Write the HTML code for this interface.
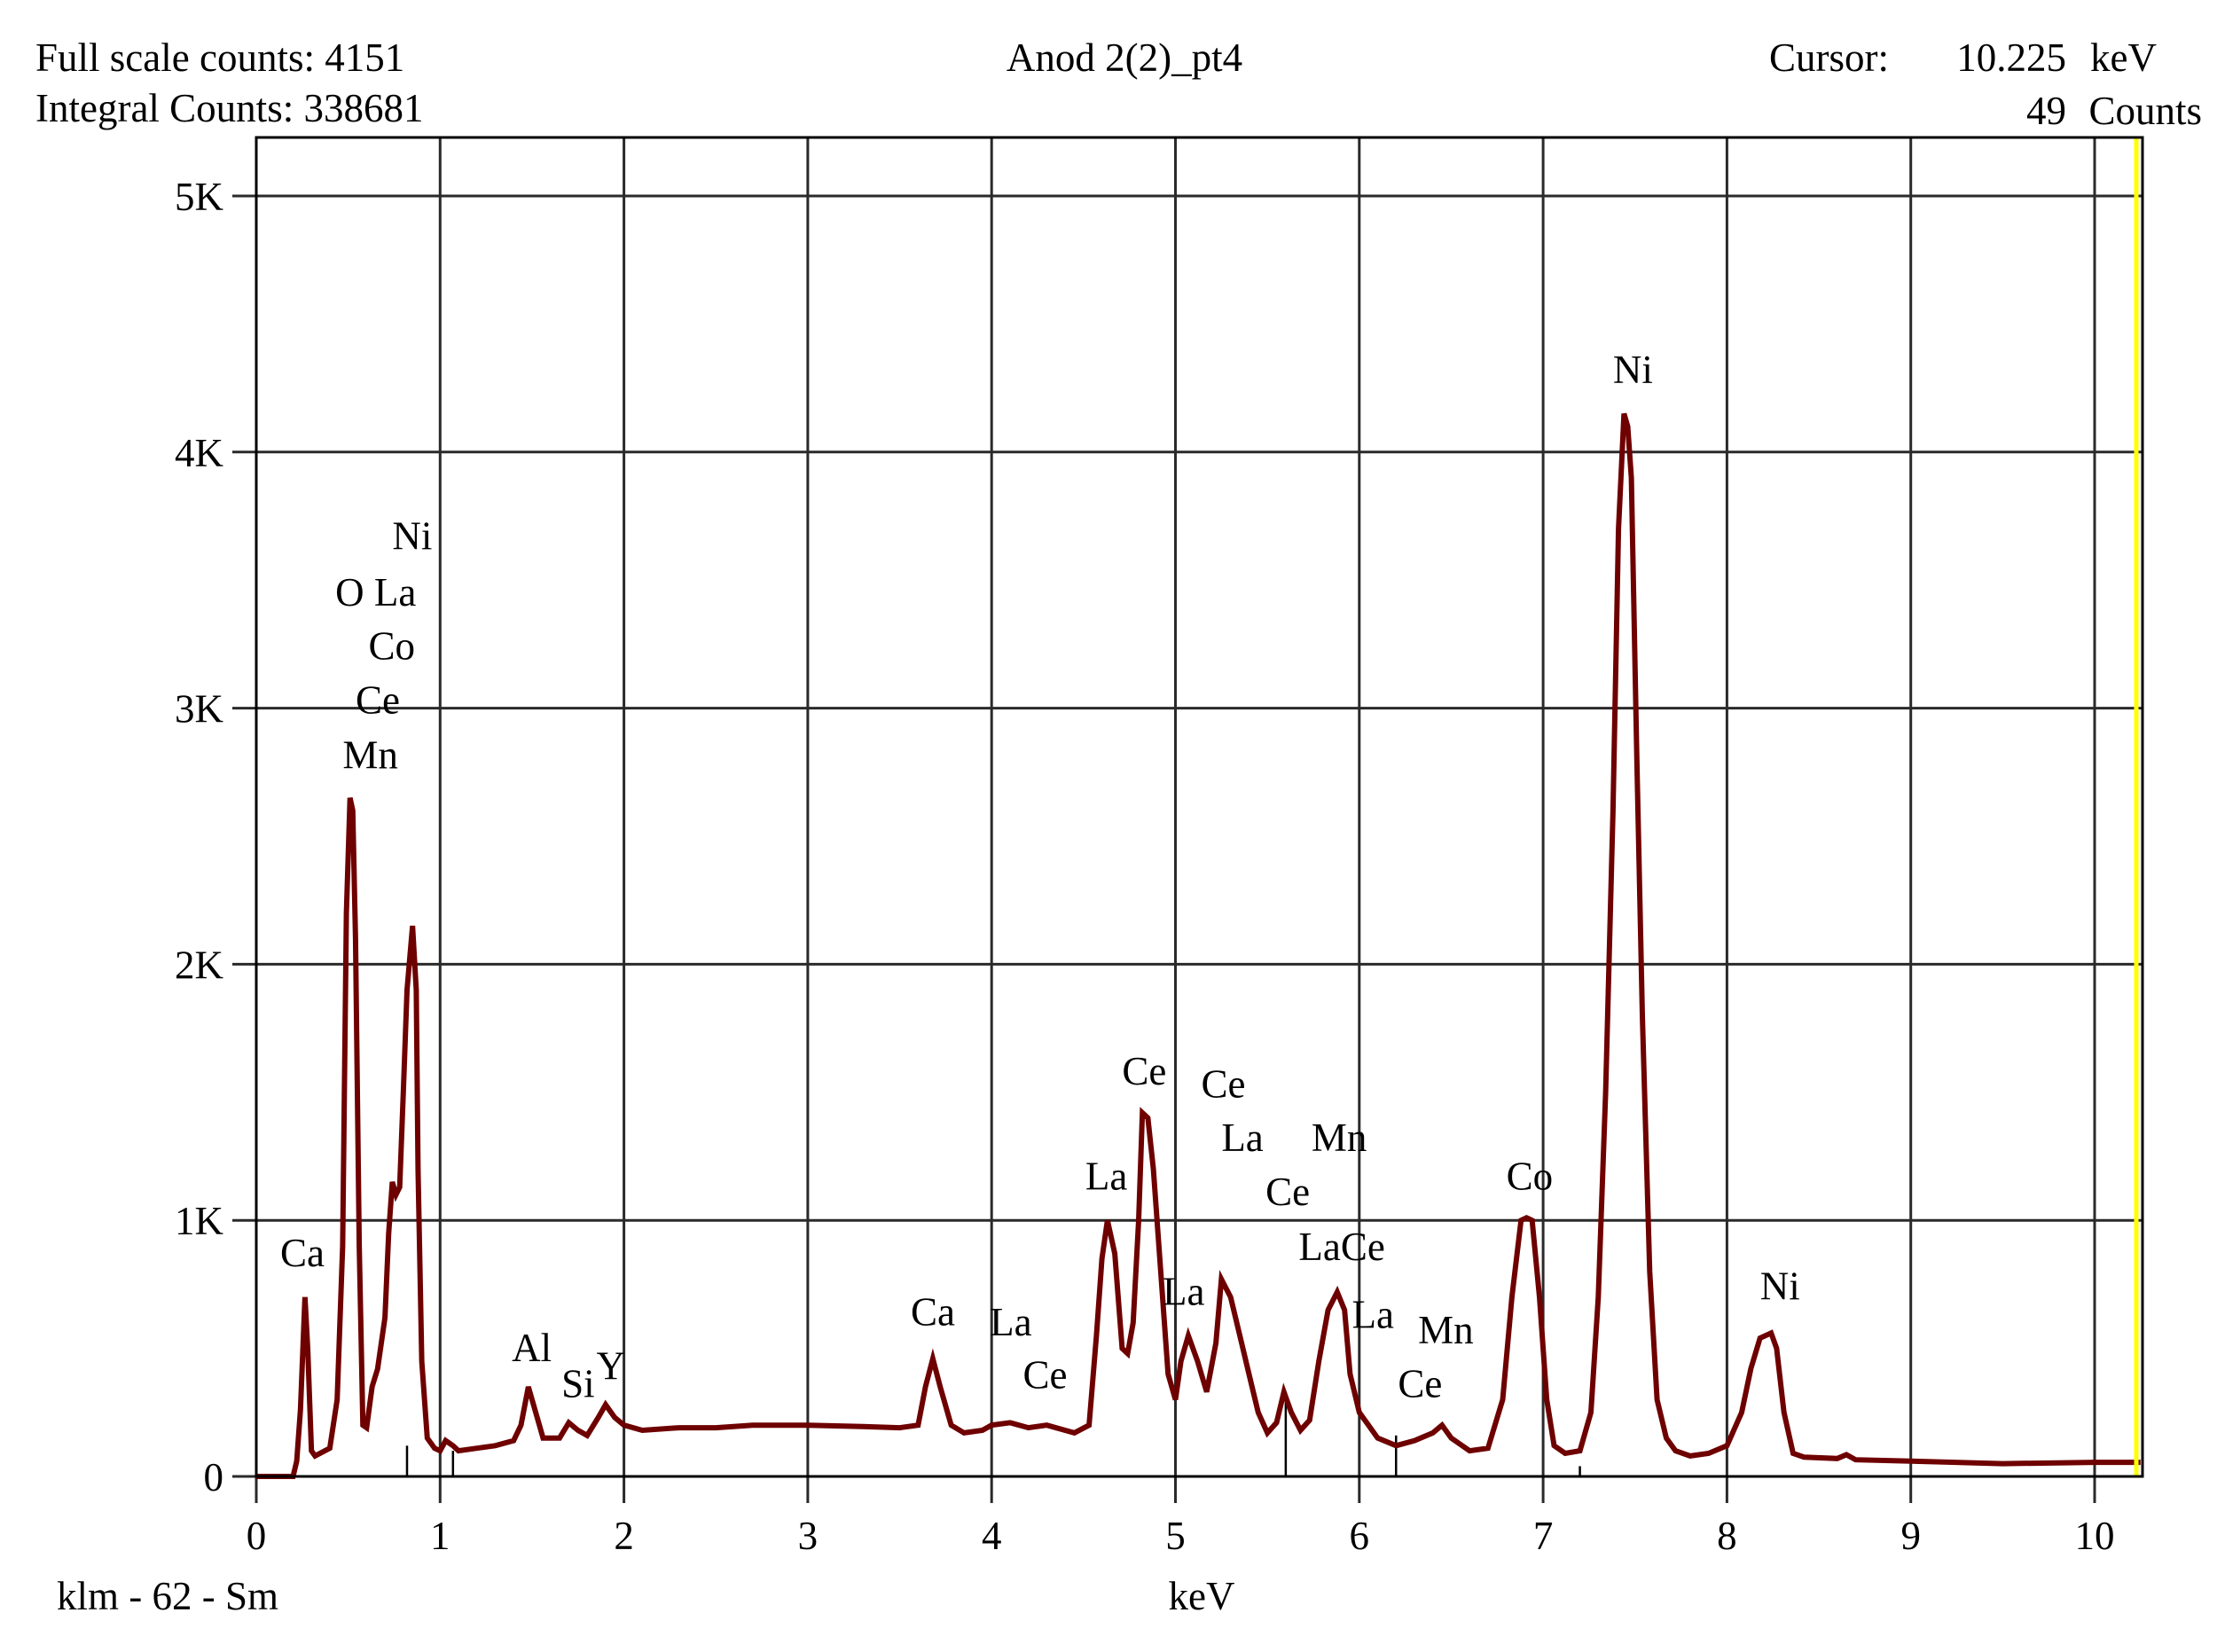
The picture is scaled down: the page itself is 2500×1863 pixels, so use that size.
<!DOCTYPE html>
<html><head><meta charset="utf-8"><style>
html,body{margin:0;padding:0;background:#fff;}
svg{display:block;font-family:"Liberation Serif",serif;}
</style></head><body>
<svg id="chart" width="2500" height="1863" viewBox="0 0 2500 1863" xmlns="http://www.w3.org/2000/svg">
<rect width="2500" height="1863" fill="#fff"/>
<g font-size="45" fill="#000">
<text x="40" y="80">Full scale counts: 4151</text>
<text x="40" y="137">Integral Counts: 338681</text>
<text x="1268" y="80" text-anchor="middle">Anod 2(2)_pt4</text>
<text x="1995" y="80">Cursor:</text>
<text x="2330" y="80" text-anchor="end">10.225</text>
<text x="2432" y="80" text-anchor="end">keV</text>
<text x="2330" y="140" text-anchor="end">49</text>
<text x="2483" y="140" text-anchor="end">Counts</text>
<text x="64" y="1815">klm - 62 - Sm</text>
<text x="1355" y="1815" text-anchor="middle">keV</text>
</g>
<g id="grid"></g>
<g id="axes"></g>
<g id="markers"></g>
<path id="spectrum" fill="none" stroke="#6e0000" stroke-width="6" stroke-linejoin="miter"/>
<line x1="2409" y1="155" x2="2409" y2="1665" stroke="#ffff00" stroke-width="5"/>
<rect x="289" y="155" width="2127" height="1510" fill="none" stroke="#000" stroke-width="3"/>
<g id="labels" font-size="45" fill="#000"></g>
</svg>
<script>
const energies = [
0,0.2,0.22,0.24,0.265,0.28,0.3,0.32,0.4,0.44,
0.47,0.49,0.51,0.525,0.54,0.56,0.58,0.6,0.63,0.66,
0.7,0.72,0.74,0.76,0.78,0.8,0.82,0.85,0.87,0.88,
0.9,0.93,0.97,1.0,1.03,1.07,1.1,1.2,1.3,1.4,
1.44,1.48,1.52,1.56,1.65,1.7,1.75,1.8,1.86,1.9,
1.95,2.0,2.1,2.3,2.5,2.7,3.0,3.3,3.5,3.6,
3.64,3.68,3.72,3.78,3.85,3.95,4.0,4.1,4.2,4.3,
4.45,4.53,4.57,4.6,4.63,4.67,4.71,4.74,4.77,4.8,
4.82,4.85,4.88,4.92,4.96,5.0,5.03,5.07,5.12,5.17,
5.22,5.25,5.3,5.35,5.4,5.45,5.5,5.55,5.59,5.63,
5.68,5.73,5.78,5.83,5.88,5.92,5.95,6.0,6.05,6.1,
6.2,6.3,6.4,6.45,6.5,6.6,6.7,6.78,6.83,6.88,
6.91,6.94,6.98,7.02,7.06,7.12,7.2,7.26,7.3,7.34,
7.38,7.41,7.44,7.46,7.48,7.51,7.54,7.58,7.62,7.67,
7.72,7.8,7.9,8.0,8.08,8.13,8.18,8.24,8.27,8.31,
8.36,8.42,8.6,8.65,8.7,9.0,9.5,10.0,10.25];
const counts = [
0,0,60,260,700,500,100,80,110,300,
900,2200,2650,2600,2100,900,200,190,350,420,
620,950,1150,1100,1130,1500,1900,2150,1900,1200,
450,150,110,100,140,120,100,110,120,140,
200,350,250,150,150,210,180,160,230,280,
230,200,180,190,190,200,200,195,190,200,
350,460,350,200,170,180,200,210,190,200,
170,200,550,850,1000,870,500,480,600,1000,
1420,1400,1200,800,400,300,450,550,450,330,
520,770,700,550,400,250,170,210,330,250,
180,220,450,650,720,650,400,250,200,150,
120,140,170,200,150,100,110,300,700,1000,
1010,1000,700,300,120,90,100,250,700,1500,
2600,3700,4150,4100,3900,2800,1800,800,300,150,
100,80,90,120,250,420,540,560,500,250,
90,75,70,85,65,60,50,55,55];
const xTicks = [0,1,2,3,4,5,6,7,8,9,10];
const yTicks = [0,1000,2000,3000,4000,5000];
const yTickLabels = ["0","1K","2K","3K","4K","5K"];
const markerKev = [0.82,1.07,5.6,6.2,7.2];
const markerHeights = [120,100,330,160,40];
const peakLabels = ["Ni","O La","Co","Ce","Mn","Ca","Al","Si","Y","Ca","La","Ce","La","Ce","Ce","La","Mn","Ce","LaCe","La","La","Mn","Ce","Co","Ni","Ni"];
const labelKev = [0.74,0.43,0.61,0.54,0.47,0.13,1.39,1.66,1.85,3.56,3.99,4.17,4.51,4.71,5.14,5.25,5.74,5.49,5.67,4.93,5.96,6.32,6.21,6.8,7.38,8.18];
const labelCounts = [3620,3400,3190,2980,2765,820,450,310,380,590,550,345,1120,1530,1480,1270,1270,1060,845,670,580,520,310,1120,4270,690];

const X0=289, PXK=207.3, Y0=1665, PYC=0.2888;
const xs = k => X0 + k*PXK;
const ys = c => Y0 - c*PYC;
const NS='http://www.w3.org/2000/svg';
const grid=document.getElementById('grid'), axes=document.getElementById('axes');
xTicks.forEach((t,i)=>{
  const l=document.createElementNS(NS,'line');
  l.setAttribute('x1',xs(t));l.setAttribute('x2',xs(t));l.setAttribute('y1',155);l.setAttribute('y2',1695);
  l.setAttribute('stroke','#2a2a2a');l.setAttribute('stroke-width','3');
  
  
  grid.appendChild(l);
  const tx=document.createElementNS(NS,'text');
  tx.setAttribute('x',xs(t));tx.setAttribute('y',1747);tx.setAttribute('text-anchor','middle');tx.setAttribute('font-size','45');
  tx.textContent=String(t);
  
  
  axes.appendChild(tx);
});
yTicks.forEach((t,i)=>{
  const l=document.createElementNS(NS,'line');
  l.setAttribute('x1',262);l.setAttribute('x2',2416);l.setAttribute('y1',ys(t));l.setAttribute('y2',ys(t));
  l.setAttribute('stroke','#2a2a2a');l.setAttribute('stroke-width','3');
  
  
  grid.appendChild(l);
  const tx=document.createElementNS(NS,'text');
  tx.setAttribute('x',252);tx.setAttribute('y',ys(t)+16);tx.setAttribute('text-anchor','end');tx.setAttribute('font-size','45');
  tx.textContent=yTickLabels[i];
  
  
  axes.appendChild(tx);
});
const mk=document.getElementById('markers');
markerKev.forEach((k,i)=>{
  const l=document.createElementNS(NS,'line');
  l.setAttribute('x1',xs(k));l.setAttribute('x2',xs(k));l.setAttribute('y1',Y0);l.setAttribute('y2',ys(markerHeights[i]));
  l.setAttribute('stroke','#000');l.setAttribute('stroke-width','2.5');
  
  
  mk.appendChild(l);
});
let d='';
const n=Math.min(energies.length,counts.length);
for(let i=0;i<n;i++){ d+=(i?'L':'M')+xs(energies[i]).toFixed(1)+' '+ys(counts[i]).toFixed(1)+' '; }
document.getElementById('spectrum').setAttribute('d',d);
const lg=document.getElementById('labels');
peakLabels.forEach((s,i)=>{
  const tx=document.createElementNS(NS,'text');
  tx.setAttribute('x',xs(labelKev[i]));tx.setAttribute('y',ys(labelCounts[i]));
  tx.textContent=s;
  
  
  lg.appendChild(tx);
});
</script>
</body></html>
